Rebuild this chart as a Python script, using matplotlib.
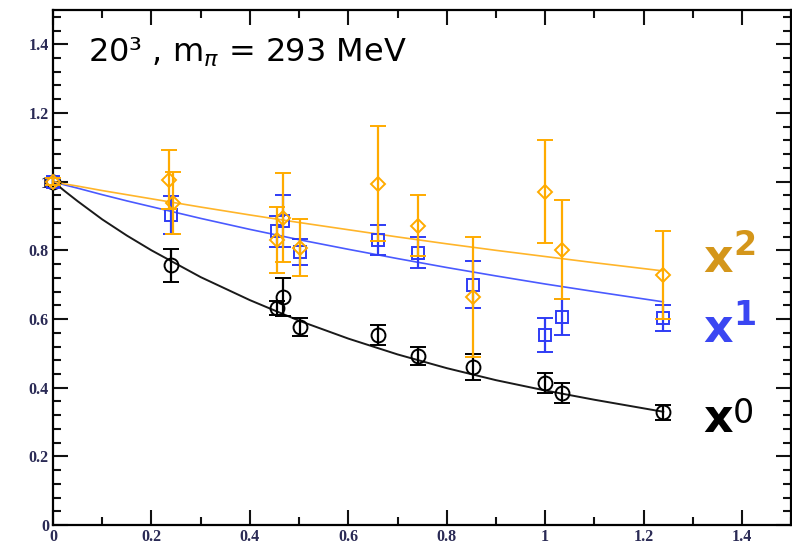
import matplotlib
matplotlib.use("Agg")
import matplotlib.pyplot as plt
from matplotlib.ticker import MultipleLocator, FuncFormatter

# ---- data ----
x0 = [0.0, 0.24, 0.455, 0.467, 0.502, 0.66, 0.742, 0.854, 1.0, 1.035, 1.24]
y0 = [1.0, 0.756, 0.633, 0.665, 0.577, 0.554, 0.493, 0.46, 0.414, 0.385, 0.328]
e0 = [0.01, 0.048, 0.02, 0.055, 0.027, 0.03, 0.026, 0.038, 0.03, 0.03, 0.022]

x1 = [0.0, 0.24, 0.455, 0.467, 0.502, 0.66, 0.742, 0.854, 1.0, 1.035, 1.24]
y1 = [1.0, 0.904, 0.855, 0.885, 0.796, 0.831, 0.793, 0.70, 0.554, 0.606, 0.603]
e1 = [0.01, 0.055, 0.045, 0.075, 0.038, 0.044, 0.045, 0.068, 0.05, 0.052, 0.039]

x2 = [0.0, 0.235, 0.243, 0.455, 0.467, 0.502, 0.66, 0.742, 0.854, 1.0, 1.035, 1.24]
y2 = [1.0, 1.006, 0.937, 0.83, 0.895, 0.808, 0.994, 0.872, 0.665, 0.971, 0.802, 0.729]
e2 = [0.01, 0.085, 0.09, 0.095, 0.13, 0.083, 0.167, 0.088, 0.175, 0.15, 0.145, 0.128]

# fit curves
fit_x = [0.0, 0.025, 0.05, 0.1, 0.15, 0.2, 0.3, 0.4, 0.5, 0.6, 0.7, 0.8, 0.9, 1.0, 1.1, 1.24]
fit0 = [1.0, 0.971, 0.943, 0.89, 0.843, 0.80, 0.722, 0.655, 0.595, 0.543, 0.497, 0.457, 0.422, 0.392, 0.365, 0.33]
fit1 = [1.0, 0.990, 0.981, 0.962, 0.944, 0.927, 0.893, 0.861, 0.831, 0.803, 0.776, 0.75, 0.7255, 0.702, 0.68, 0.65]
fit2 = [1.0, 0.993, 0.987, 0.974, 0.962, 0.950, 0.926, 0.903, 0.881, 0.860, 0.839, 0.819, 0.80, 0.782, 0.764, 0.74]

title_text = "20\u00b3 , m$_\\pi$ = 293 MeV"
label_base = ["x", "x", "x"]
label_pow = ["2", "1", "0"]

c0 = "#000000"
c1 = "#2f3cf5"
c2 = "#ffab00"
c1_line = "#4a5aff"
c2_line = "#ffb52a"
lab_colors = ["#d4961a", "#3a46f2", "#000000"]

fig = plt.figure(figsize=(7.92, 5.51), dpi=100)
ax = fig.add_axes([0.067, 0.047, 0.932, 0.935])

ax.plot(fit_x, fit0, color="#1a1a1a", lw=1.4, zorder=2)
ax.plot(fit_x, fit1, color=c1_line, lw=1.2, zorder=2)
ax.plot(fit_x, fit2, color=c2_line, lw=1.2, zorder=2)

common = dict(ls="none", mfc="none", capsize=5.5, elinewidth=1.6, capthick=1.6,
              mew=1.4, clip_on=False)
ax.errorbar(x0, y0, yerr=e0, fmt="o", color=c0, zorder=3, markersize=10, **common)
ax.errorbar(x1, y1, yerr=e1, fmt="s", color=c1, zorder=4, markersize=8.5, **common)
ax.errorbar(x2, y2, yerr=e2, fmt="D", color=c2, zorder=5, markersize=7.5, **common)

ax.set_xlim(0, 1.5)
ax.set_ylim(0, 1.5)
ax.xaxis.set_major_locator(MultipleLocator(0.2))
ax.xaxis.set_minor_locator(MultipleLocator(0.1))
ax.yaxis.set_major_locator(MultipleLocator(0.2))
ax.yaxis.set_minor_locator(MultipleLocator(0.04))
fmt = FuncFormatter(lambda v, p: "%g" % round(v, 2))
ax.xaxis.set_major_formatter(fmt)
ax.yaxis.set_major_formatter(fmt)
ax.tick_params(which="both", direction="in", top=True, right=True, width=1.5,
               labelsize=11.5, colors="#111111", labelcolor="#2a2a55")
ax.tick_params(which="major", length=10.5, pad=3)
ax.tick_params(which="minor", length=5.5)
for lab in ax.get_xticklabels() + ax.get_yticklabels():
    lab.set_family("Liberation Serif")
    lab.set_fontweight("bold")
for s in ax.spines.values():
    s.set_linewidth(1.6)

ax.text(0.072, 1.35, title_text, fontsize=23, family="DejaVu Sans", color="black",
        va="baseline")

# side labels x^2, x^1, x^0
base_pos = [(1.322, 0.738), (1.322, 0.534), (1.322, 0.271)]
pow_pos = [(1.382, 0.787), (1.382, 0.583), (1.382, 0.297)]
pow_weight = ["bold", "bold", "normal"]
for i in range(3):
    ax.text(base_pos[i][0], base_pos[i][1], label_base[i], fontsize=33, fontweight="bold",
            color=lab_colors[i], va="baseline", family="DejaVu Sans")
    ax.text(pow_pos[i][0], pow_pos[i][1], label_pow[i], fontsize=24, fontweight=pow_weight[i],
            color=lab_colors[i], va="baseline", family="DejaVu Sans")

fig.savefig("out.png", dpi=100)
